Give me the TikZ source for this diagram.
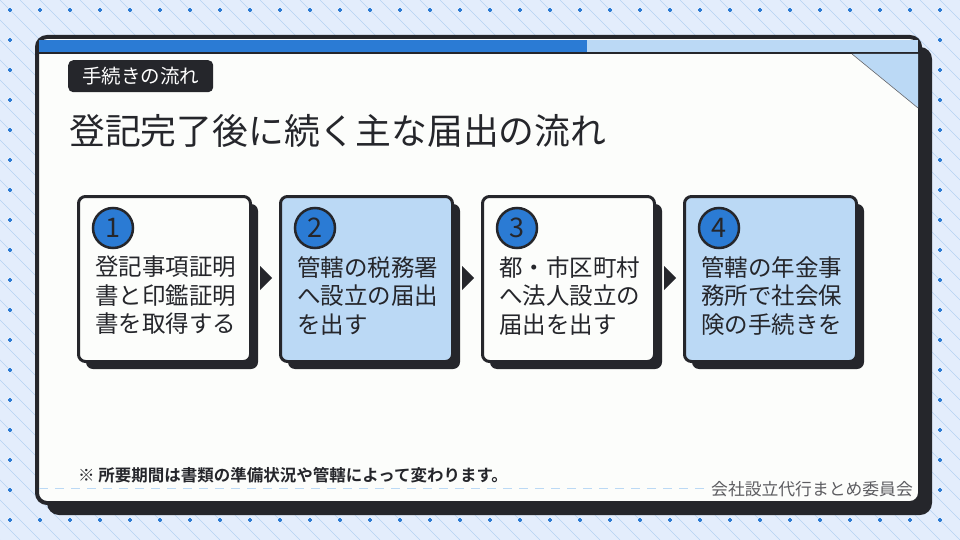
\documentclass[tikz,border=0pt]{standalone}
\usepackage{fontspec}
\setmainfont{Noto Sans CJK JP}
\newfontfamily\jpb{Noto Sans CJK JP}[BoldFont={* Bold}]
\definecolor{bg}{HTML}{E3EDFC}
\definecolor{dk}{HTML}{25262B}
\definecolor{bl}{HTML}{2B7BD4}
\definecolor{lb}{HTML}{BBD9F5}
\definecolor{ln}{HTML}{B5D3F2}
\definecolor{wh}{HTML}{FCFDFB}
\begin{document}
\begin{tikzpicture}[x=1pt,y=-1pt,
 card/.style={draw=dk,line width=3pt,rounded corners=7pt,minimum width=172pt,minimum height=165pt,anchor=north west},
 shadow/.style={fill=dk,rounded corners=7pt},
 num/.style={circle,draw=dk,line width=2.5pt,fill=bl,minimum size=40pt,inner sep=0pt,font=\fontsize{27}{27}\selectfont,text=dk},
 txt/.style={anchor=north west,align=left,font=\fontsize{23.5}{28.5}\selectfont,text=dk,inner sep=0pt},
 arr/.style={fill=dk}]
\useasboundingbox (0,0) rectangle (960,540);
\fill[bg] (0,0) rectangle (960,540);
\begin{scope}
\clip (0,0) rectangle (960,540);
\foreach \i in {-560,-540,...,960} \draw[ln,line width=0.5pt] (\i,0) -- (\i+540,540);
\end{scope}
\foreach \x in {10,40,...,950} \foreach \y in {10,40,...,530} {\fill[bl] (\x-2,\y-0.7) rectangle (\x+2,\y+0.7); \fill[bl] (\x-0.7,\y-2) rectangle (\x+0.7,\y+2);}
% panel
\fill[dk,rounded corners=12pt] (47,47) rectangle (932,515);
\fill[wh,draw=dk,line width=4pt,rounded corners=10pt] (37,37) rectangle (920,503);
\fill[bl] (39,40) rectangle (587,52);
\fill[lb] (587,40) rectangle (918,52);
\draw[dk,line width=1.5pt] (39,53) -- (918,53);
\fill[lb] (852,54) -- (918,54) -- (918,108) -- cycle;
\draw[dk!70,line width=0.6pt] (852,54) -- (918,108);
% tag
\node[fill=dk,rounded corners=5pt,minimum width=145pt,minimum height=32pt,anchor=north west,text=white,font=\fontsize{19.5}{19.5}\selectfont] (tag) at (68,60) {手続きの流れ};
\node[anchor=west,inner sep=0pt,text=dk,font=\fontsize{35.8}{36}\selectfont] (title) at (69,131) {登記完了後に続く主な届出の流れ};
% cards
\foreach \i/\c/\n/\t in {0/wh/1/{登記事項証明\\書と印鑑証明\\書を取得する},1/lb/2/{管轄の税務署\\へ設立の届出\\を出す},2/wh/3/{都・市区町村\\へ法人設立の\\届出を出す},3/lb/4/{管轄の年金事\\務所で社会保\\険の手続きを}}{
 \fill[shadow] (77+202*\i+9,195+9) rectangle +(172,165);
 \node[card,fill=\c] (c\n) at (77+202*\i,195) {};
 \node[num] (n\n) at (113+202*\i,228) {\n};
 \node[txt] (t\n) at (95+202*\i,256) {\t};
}
\foreach \i in {0,1,2} \fill[arr] (260+202*\i,266) -- (272+202*\i,278) -- (260+202*\i,290) -- cycle;
% footer
\node[anchor=west,inner sep=0pt,text=dk,font=\jpb\bfseries\fontsize{16.5}{16.5}\selectfont] (note) at (78,475) {※ 所要期間は書類の準備状況や管轄によって変わります。};
\draw[lb,line width=1pt,dash pattern=on 9pt off 7pt] (39,488) -- (705,488);
\node[anchor=east,inner sep=0pt,text=dk!75,font=\fontsize{16.8}{16.8}\selectfont] (credit) at (913,489) {会社設立代行まとめ委員会};
\end{tikzpicture}
\end{document}
